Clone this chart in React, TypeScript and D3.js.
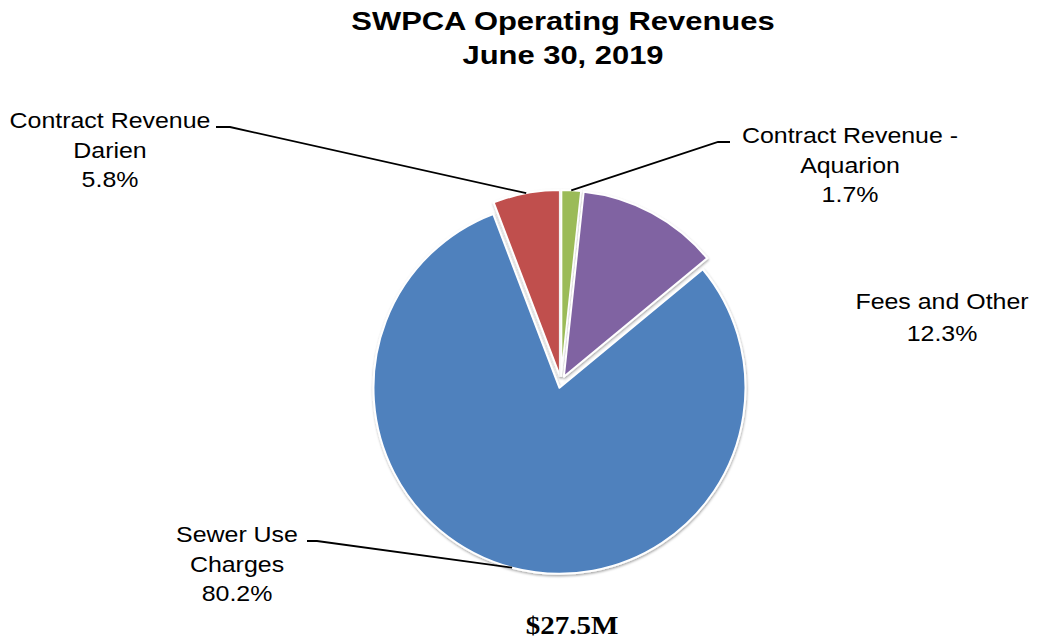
import { useRef, useEffect } from "react";
import * as d3 from "d3";

const categories = [
  "Sewer Use Charges",
  "Contract Revenue Darien",
  "Contract Revenue - Aquarion",
  "Fees and Other",
];
const values = [80.2, 5.8, 1.7, 12.3];
const colors = ["#4F81BD", "#C0504D", "#9BBB59", "#8064A2"];
const labelLines = [
  ["Sewer Use", "Charges", "80.2%"],
  ["Contract Revenue", "Darien", "5.8%"],
  ["Contract Revenue -", "Aquarion", "1.7%"],
  ["Fees and Other", "12.3%"],
];
const titleLines = ["SWPCA Operating Revenues", "June 30, 2019"];
const totalLabel = "$27.5M";

const App = () => {
  const svgRef = useRef<SVGSVGElement | null>(null);

  useEffect(() => {
    const svg = d3.select(svgRef.current);
    svg.selectAll("*").remove();

    const width = 1038;
    const height = 640;
    const cx = 561;
    const cy = 382;
    const radius = 186;
    const explode = 6;
    const sx = 1.16;
    const sans = "'Liberation Sans', Arial, sans-serif";

    const total = d3.sum(values);
    // red slice ends at 12 o'clock
    const start = (-2 * Math.PI * (values[0] + values[1])) / total;

    const pie = d3
      .pie<number>()
      .sort(null)
      .startAngle(start)
      .endAngle(start + 2 * Math.PI);
    const arcs = pie(values);

    const arc = d3.arc<d3.PieArcDatum<number>>().innerRadius(0).outerRadius(radius);

    const defs = svg.append("defs");
    const filter = defs
      .append("filter")
      .attr("id", "shadow")
      .attr("x", "-20%")
      .attr("y", "-20%")
      .attr("width", "140%")
      .attr("height", "140%");
    filter
      .append("feDropShadow")
      .attr("dx", 0.5)
      .attr("dy", 1.5)
      .attr("stdDeviation", 1.2)
      .attr("flood-color", "#000")
      .attr("flood-opacity", 0.35);

    svg.attr("width", width).attr("height", height);

    const pieG = svg.append("g").attr("transform", `translate(${cx},${cy})`);

    const offset = (d: d3.PieArcDatum<number>, r: number) => {
      const a = (d.startAngle + d.endAngle) / 2;
      return [Math.sin(a) * r, -Math.cos(a) * r];
    };

    pieG
      .selectAll("path")
      .data(arcs)
      .join("path")
      .attr("transform", (d) => {
        const [ox, oy] = offset(d, explode);
        return `translate(${ox},${oy})`;
      })
      .attr("d", arc)
      .attr("fill", (_, i) => colors[i])
      .attr("stroke", "#fff")
      .attr("stroke-width", 2)
      .attr("stroke-linejoin", "round")
      .attr("filter", "url(#shadow)");

    // label positions (centre x, first baseline, leader stub)
    const labelPos = [
      { x: 237, y: 542, lead: { x1: 307, x2: 317 } },
      { x: 110, y: 128, lead: { x1: 216, x2: 230 } },
      { x: 850, y: 143, lead: { x1: 730, x2: 718 } },
      { x: 942, y: 309, lead: null },
    ];
    const lineH = 29.5;

    arcs.forEach((d, i) => {
      const p = labelPos[i];
      if (p.lead) {
        const [ex, ey] = offset(d, radius + explode);
        const path = d3.path();
        path.moveTo(p.lead.x1, p.y - 1);
        path.lineTo(p.lead.x2, p.y - 1);
        path.lineTo(cx + ex, cy + ey);
        svg
          .append("path")
          .attr("d", path.toString())
          .attr("fill", "none")
          .attr("stroke", "#000")
          .attr("stroke-width", 1.8);
      }
      labelLines[i].forEach((t, j) => {
        svg
          .append("text")
          .attr("transform", `translate(${p.x},${p.y + j * (i === 3 ? 32 : lineH)}) scale(${sx},1)`)
          .attr("text-anchor", "middle")
          .attr("font-family", sans)
          .attr("font-size", 21.5)
          .attr("fill", "#000")
          .text(t);
      });
    });

    titleLines.forEach((t, j) => {
      svg
        .append("text")
        .attr("transform", `translate(${563},${30 + j * 34}) scale(1.19,1)`)
        .attr("text-anchor", "middle")
        .attr("font-family", sans)
        .attr("font-weight", "bold")
        .attr("font-size", 26)
        .attr("fill", "#000")
        .text(t);
    });

    svg
      .append("text")
      .attr("transform", `translate(572,634) scale(${sx},1)`)
      .attr("text-anchor", "middle")
      .attr("font-family", "'Liberation Serif', 'Times New Roman', serif")
      .attr("font-weight", "bold")
      .attr("font-size", 25)
      .attr("fill", "#000")
      .text(totalLabel);
  }, []);

  return (
    <svg
      ref={svgRef}
      width={1038}
      height={640}
      style={{ position: "absolute", left: 0, top: 0, background: "#fff" }}
      aria-label={categories.join(", ")}
    />
  );
};

export default App;
